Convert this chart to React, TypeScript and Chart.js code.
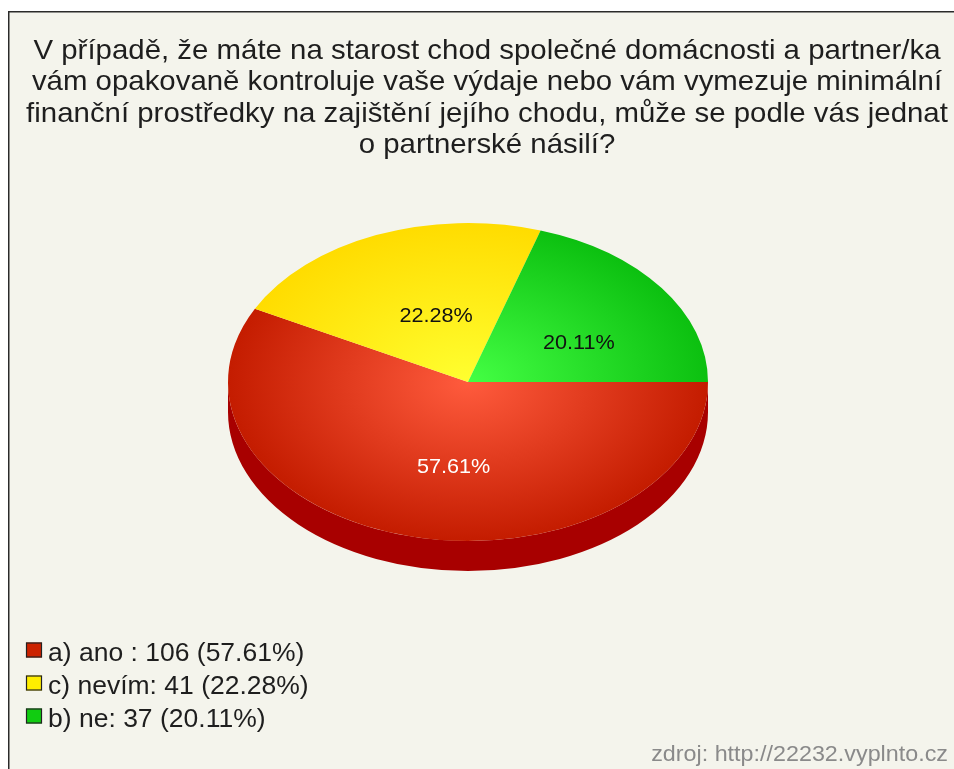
import React, { useEffect, useRef } from "react";
import { Chart, registerables } from "chart.js";

Chart.register(...registerables);

const titleLines = [
  "V případě, že máte na starost chod společné domácnosti a partner/ka",
  "vám opakovaně kontroluje vaše výdaje nebo vám vymezuje minimální",
  "finanční prostředky na zajištění jejího chodu, může se podle vás jednat",
  "o partnerské násilí?",
];
const categories = ["a) ano ", "c) nevím", "b) ne"];
const counts = [106, 41, 37];
const sourceText = "zdroj: http://22232.vyplnto.cz";

const innerColors = ["#ff5b3d", "#ffff30", "#44ff44"];
const outerColors = ["#c41c00", "#ffdc00", "#0cc010"];
const sideColors = ["#a80000", "#c8a800", "#088a08"];
const legendColors = ["#cc2200", "#ffee00", "#11cc11"];
const labelColors = ["#ffffff", "#111111", "#111111"];

const W = 954;
const H = 769;
const SQUASH = 159 / 240;
const DEPTH = 30;
const FONT = '"Liberation Sans", Arial, sans-serif';
const SX = 1.06;
const TITLE_SX = 1.05;

const total = counts.reduce((a, b) => a + b, 0);
const pct = (v: number) => ((v / total) * 100).toFixed(2);

function stretchedText(ctx: any, text: string, x: number, y: number, sx: number) {
  ctx.save();
  ctx.translate(x, y);
  ctx.scale(sx, 1);
  ctx.fillText(text, 0, 0);
  ctx.restore();
}

const pie3d = {
  id: "pie3d",
  beforeDraw(chart: any) {
    const ctx = chart.ctx;
    ctx.save();
    ctx.fillStyle = "#ffffff";
    ctx.fillRect(0, 0, chart.width, chart.height);
    ctx.fillStyle = "#f4f4ec";
    ctx.fillRect(8, 11, chart.width, chart.height);
    ctx.strokeStyle = "#2a2a2a";
    ctx.lineWidth = 1.5;
    ctx.strokeRect(8.75, 11.75, chart.width + 20, chart.height + 20);
    ctx.restore();
  },
  beforeDatasetsDraw(chart: any) {
    const ctx = chart.ctx;
    const arcs = chart.getDatasetMeta(0).data;
    const a0 = arcs[0];
    const cx = a0.x;
    const cy = a0.y;
    const R = a0.outerRadius;
    const ry = R * SQUASH;
    ctx.save();
    arcs.forEach((arc: any, i: number) => {
      const s = arc.startAngle;
      const e = arc.endAngle;
      for (let k = -1; k <= 1; k++) {
        const base = k * 2 * Math.PI;
        const lo = Math.max(s, base);
        const hi = Math.min(e, base + Math.PI);
        if (hi <= lo) continue;
        ctx.beginPath();
        ctx.ellipse(cx, cy, R, ry, 0, lo, hi, false);
        ctx.ellipse(cx, cy + DEPTH, R, ry, 0, hi, lo, true);
        ctx.closePath();
        ctx.fillStyle = sideColors[i];
        ctx.fill();
      }
    });
    ctx.restore();
    ctx.save();
    ctx.translate(cx, cy);
    ctx.scale(1, SQUASH);
    ctx.translate(-cx, -cy);
  },
  afterDatasetsDraw(chart: any) {
    const ctx = chart.ctx;
    ctx.restore();
    const arcs = chart.getDatasetMeta(0).data;
    const cy = arcs[0].y;
    ctx.save();
    ctx.font = `21px ${FONT}`;
    ctx.textAlign = "center";
    ctx.textBaseline = "middle";
    arcs.forEach((arc: any, i: number) => {
      const p = arc.getCenterPoint();
      const x = p.x + 14;
      const y = cy + (p.y - cy) * SQUASH + 8;
      ctx.fillStyle = labelColors[i];
      stretchedText(ctx, `${pct(counts[i])}%`, x, y, 1.03);
    });
    ctx.restore();
  },
  afterDraw(chart: any) {
    const ctx = chart.ctx;
    ctx.save();
    // title
    ctx.fillStyle = "#1e1e1e";
    ctx.font = `28px ${FONT}`;
    ctx.textAlign = "center";
    ctx.textBaseline = "alphabetic";
    titleLines.forEach((line, i) => {
      stretchedText(ctx, line, 487, 59 + i * 31.3, TITLE_SX);
    });
    // legend
    ctx.font = `25px ${FONT}`;
    ctx.textAlign = "left";
    categories.forEach((cat, i) => {
      const yTop = 642.5 + i * 33;
      ctx.fillStyle = legendColors[i];
      ctx.fillRect(26, yTop, 16, 15);
      ctx.strokeStyle = "#222222";
      ctx.lineWidth = 1.2;
      ctx.strokeRect(26.5, yTop + 0.5, 15, 14);
      ctx.fillStyle = "#1e1e1e";
      stretchedText(ctx, `${cat}: ${counts[i]} (${pct(counts[i])}%)`, 48, yTop + 18.5, SX);
    });
    // source
    ctx.font = `22px ${FONT}`;
    ctx.textAlign = "right";
    ctx.fillStyle = "#8a8a8a";
    stretchedText(ctx, sourceText, 948, 761, SX);
    ctx.restore();
  },
};

function makeGradient(chart: any, i: number) {
  const area = chart.chartArea;
  if (!area) return legendColors[i];
  const cx = (area.left + area.right) / 2;
  const cy = (area.top + area.bottom) / 2;
  const r = Math.min(area.right - area.left, area.bottom - area.top) / 2;
  const g = chart.ctx.createRadialGradient(cx, cy, 0, cx, cy, r);
  g.addColorStop(0, innerColors[i]);
  g.addColorStop(1, outerColors[i]);
  return g;
}

export default function App() {
  const ref = useRef<HTMLCanvasElement | null>(null);
  useEffect(() => {
    if (!ref.current) return;
    const chart = new Chart(ref.current, {
      type: "pie",
      data: {
        labels: categories,
        datasets: [
          {
            data: counts,
            backgroundColor: (c: any) => makeGradient(c.chart, c.dataIndex),
            borderWidth: 0,
            hoverOffset: 0,
            offset: 0,
          },
        ],
      },
      options: {
        responsive: false,
        animation: false,
        devicePixelRatio: 1,
        events: [],
        rotation: 90,
        layout: { padding: { left: 228, right: 246, top: 142, bottom: 147 } },
        plugins: {
          legend: { display: false },
          title: { display: false },
          tooltip: { enabled: false },
        },
      } as any,
      plugins: [pie3d as any],
    });
    return () => chart.destroy();
  }, []);
  return (
    <div style={{ position: "absolute", left: 0, top: 0, width: W, height: H, overflow: "hidden" }}>
      <canvas ref={ref} width={W} height={H} style={{ display: "block" }} />
    </div>
  );
}
